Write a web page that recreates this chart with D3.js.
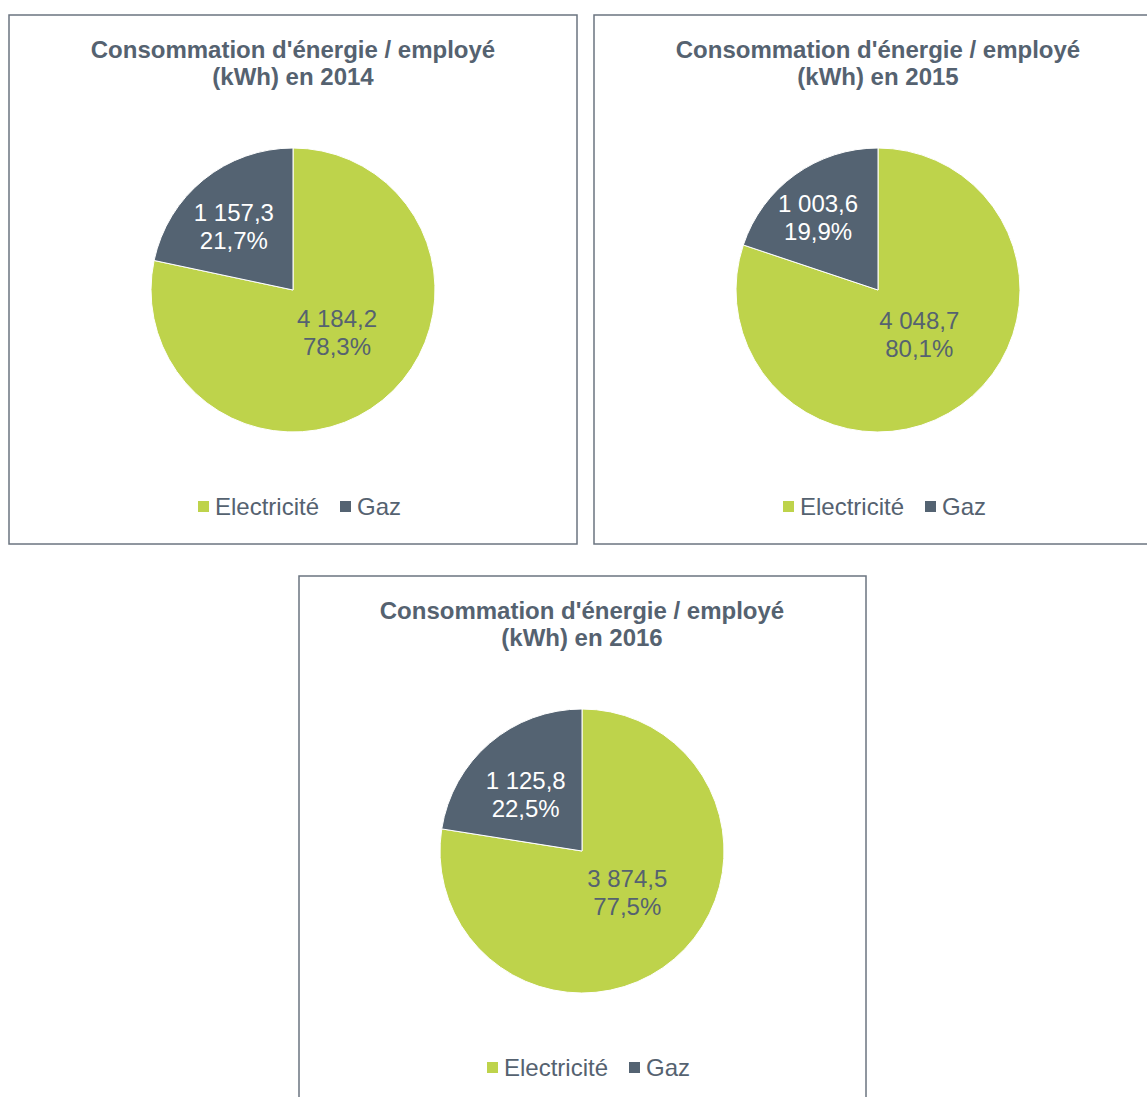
<!DOCTYPE html>
<html>
<head>
<meta charset="utf-8">
<script src="https://cdn.jsdelivr.net/npm/d3@7"></script>
<style>
body { margin: 0; background: #fff; }
text { font-family: "Liberation Sans", Arial, sans-serif; }
</style>
</head>
<body>
<script>
var width = 1147, height = 1097;
var categories = ["Electricité", "Gaz"];
var years = ["2014", "2015", "2016"];
var elec = [4184.2, 4048.7, 3874.5];
var gaz = [1157.3, 1003.6, 1125.8];

var colors = ["#bed34b", "#546372"];
var labelColors = ["#556270", "#ffffff"];
// label placement per panel: [elec radius, gaz radius]
var labelRadius = [[62, 86], [62, 94], [62, 79]];
var labelShift = [[5, -5], [-5, 4]];

// panel boxes [x, y, w, h]
var panels = [
    [9, 15, 568, 529],
    [594, 15, 568, 529],
    [299, 576, 567, 540]
];

var fr = d3.formatLocale({decimal: ",", thousands: "\u00a0", grouping: [3], currency: ["", ""]});
var fmtVal = fr.format(",.1f"),
    fmtPct = fr.format(".1%");

var svg = d3.select("body").append("svg")
    .attr("width", width)
    .attr("height", height);

var pie = d3.pie().sort(null).value(function (d) { return d; });
var R = 142;
var arc = d3.arc().innerRadius(0).outerRadius(R);

years.forEach(function (yr, i) {
    var p = panels[i];
    var g = svg.append("g").attr("transform", "translate(" + p[0] + "," + p[1] + ")");
    g.append("rect")
        .attr("width", p[2]).attr("height", p[3])
        .attr("fill", "#fff")
        .attr("stroke", "#6b7480")
        .attr("stroke-width", 1.5);

    var cx = Math.round(p[2] / 2 - 0.5);
    var title = g.append("text")
        .attr("text-anchor", "middle")
        .attr("fill", "#556270")
        .attr("font-size", 24)
        .attr("font-weight", "bold");
    title.append("tspan").attr("x", cx).attr("y", 42.5).text("Consommation d'énergie / employé");
    title.append("tspan").attr("x", cx).attr("y", 69.5).text("(kWh) en " + yr);

    var vals = [elec[i], gaz[i]];
    var total = d3.sum(vals);
    var arcs = pie(vals);
    var pg = g.append("g").attr("transform", "translate(" + cx + ",275)");
    pg.selectAll("path")
        .data(arcs)
        .enter().append("path")
        .attr("d", arc)
        .attr("fill", function (d, j) { return colors[j]; })
        .attr("stroke", "#fff")
        .attr("stroke-width", 1);

    arcs.forEach(function (d, j) {
        var a = (d.startAngle + d.endAngle) / 2;
        var r = labelRadius[i][j];
        var x = r * Math.sin(a) + labelShift[j][0],
            y = -r * Math.cos(a) + labelShift[j][1];
        var t = pg.append("text")
            .attr("text-anchor", "middle")
            .attr("fill", labelColors[j])
            .attr("font-size", 24);
        t.append("tspan").attr("x", x).attr("y", y - 6).text(fmtVal(d.data));
        t.append("tspan").attr("x", x).attr("y", y + 22).text(fmtPct(d.data / total));
    });

    // legend
    var lg = g.append("g").attr("transform", "translate(" + (cx - 95) + ",491)");
    var xs = [0, 142];
    categories.forEach(function (c, j) {
        lg.append("rect")
            .attr("x", xs[j]).attr("y", -5)
            .attr("width", 11).attr("height", 11)
            .attr("fill", colors[j]);
        lg.append("text")
            .attr("x", xs[j] + 17).attr("y", 8.5)
            .attr("fill", "#556270")
            .attr("font-size", 24)
            .text(c);
    });
});
</script>
</body>
</html>
